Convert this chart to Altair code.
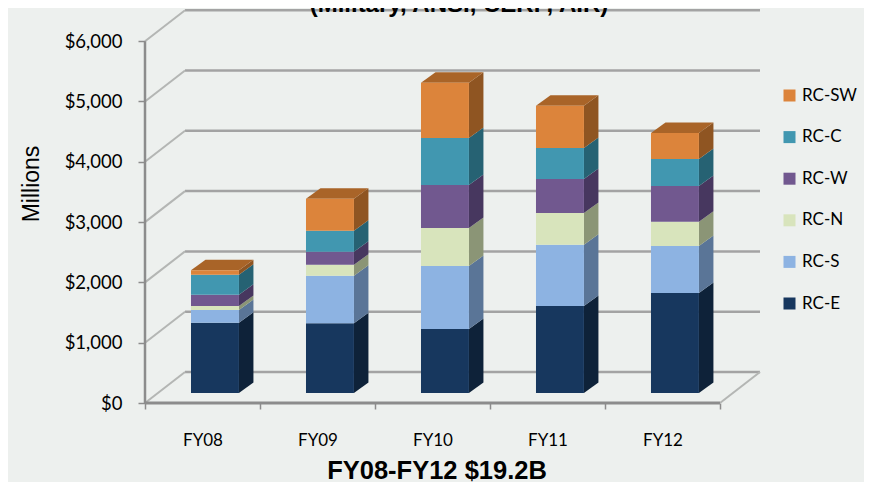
import altair as alt
import pandas as pd

YEARS = ["FY08", "FY09", "FY10", "FY11", "FY12"]
SERIES = ["RC-E", "RC-S", "RC-N", "RC-W", "RC-C", "RC-SW"]
RC_E = [1166, 1156, 1061, 1443, 1658]
RC_S = [210, 789, 1045, 1017, 779]
RC_N = [66, 182, 630, 526, 403]
RC_W = [187, 216, 713, 564, 592]
RC_C = [332, 348, 779, 514, 448]
RC_SW = [73, 531, 917, 701, 431]
VALUES = [RC_E, RC_S, RC_N, RC_W, RC_C, RC_SW]
FRONT = ["#17375e", "#8db3e2", "#d8e4bc", "#71588f", "#4197b0", "#dc843b"]
SIDE = ["#0e2239", "#5a7597", "#8b9576", "#47375f", "#266273", "#8f5522"]
TOP_FILL = "#a96428"
TICKS = [0, 1000, 2000, 3000, 4000, 5000, 6000]

# Pseudo-3D geometry in data units
BAR_START, BAR_END = 0.40, 0.817
BAR_LIFT = 166          # bars stand part-way into the floor
BAR_DX, BAR_DY = 0.126, 174
WALL_DX, WALL_DY = 0.348, 514
X_MAX = 5 + WALL_DX
Y_MAX = 6517

front_rows, side_rows, top_rows = [], [], []
for i, year in enumerate(YEARS):
    x0, x1 = i + BAR_START, i + BAR_END
    base = BAR_LIFT
    for s, name in enumerate(SERIES):
        top = base + VALUES[s][i]
        key = f"{year}-{name}"
        front_rows.append(dict(x=x0, x2=x1, y=base, y2=top, series=name))
        side_rows.append(dict(x=x1, y=base, y2=top, key=key, fill=SIDE[s]))
        side_rows.append(dict(x=x1 + BAR_DX, y=base + BAR_DY, y2=top + BAR_DY, key=key, fill=SIDE[s]))
        base = top
    top_rows += [
        dict(x=x0, y=base, y2=base, key=year),
        dict(x=x0 + BAR_DX, y=base, y2=base + BAR_DY, key=year),
        dict(x=x1, y=base, y2=base + BAR_DY, key=year),
        dict(x=x1 + BAR_DX, y=base + BAR_DY, y2=base + BAR_DY, key=year),
    ]

grid_rows = []
for t in TICKS:
    grid_rows += [dict(x=WALL_DX, y=t + WALL_DY, k=f"b{t}"), dict(x=X_MAX, y=t + WALL_DY, k=f"b{t}")]
diag_rows = []
for t in TICKS:
    diag_rows += [dict(x=0, y=t, k=f"d{t}"), dict(x=WALL_DX, y=t + WALL_DY, k=f"d{t}")]
diag_rows += [dict(x=5, y=0, k="r"), dict(x=X_MAX, y=WALL_DY, k="r")]
vert_rows = [dict(x=0, y=6000, k="v"), dict(x=0, y=0, k="v")]
floor_rows = [dict(x=0, y=0, k="f"), dict(x=5, y=0, k="f")]

XS = alt.Scale(domain=[0, X_MAX], nice=False, zero=False)
YS = alt.Scale(domain=[0, Y_MAX], nice=False, zero=False)
FONT = "Lato"
HEAD = "Liberation Sans"

X_AXIS = alt.Axis(
    values=[0, 1, 2, 3, 4, 5], grid=False, domain=False, tickColor="#8c8c8c", tickSize=6, tickWidth=1.5,
    labelExpr="datum.value < 5 ? ['FY08','FY09','FY10','FY11','FY12'][datum.value] : ''",
    labelOffset=57.5, labelAlign="center", labelFont=FONT, labelFontSize=17, labelColor="#000000",
    labelPadding=23, labelOverlap=False, labelFlush=False,
    title="FY08-FY12 $19.2B", titleFont=HEAD, titleFontSize=25.5, titleFontWeight="bold", titleColor="#000000",
    titleX=291.5, titleY=75, titleAnchor="middle", titleAlign="center", titleBaseline="alphabetic",
)
Y_AXIS = alt.Axis(
    values=TICKS, grid=False, domain=False, format="$,.0f", tickColor="#8c8c8c", tickSize=7, tickWidth=1.5,
    labelFont=FONT, labelFontSize=18.5, labelColor="#000000", labelPadding=16,
    title="Millions", titleFont=HEAD, titleFontSize=23, titleFontWeight="normal", titleColor="#000000",
    titleX=-107, titleY=173.5, titleAnchor="middle", titleBaseline="alphabetic",
)

def xy():
    return dict(
        x=alt.X("x:Q", scale=XS, axis=X_AXIS),
        y=alt.Y("y:Q", scale=YS, axis=Y_AXIS),
    )

grid = alt.Chart(pd.DataFrame(grid_rows)).mark_line(color="#a3a3a3", strokeWidth=2.5).encode(detail="k:N", **xy())
diag = alt.Chart(pd.DataFrame(diag_rows)).mark_line(color="#b4b6b4", strokeWidth=2).encode(detail="k:N", **xy())
vert = alt.Chart(pd.DataFrame(vert_rows)).mark_line(color="#8c8c8c", strokeWidth=2.5).encode(detail="k:N", **xy())
floor = alt.Chart(pd.DataFrame(floor_rows)).mark_line(color="#8c8c8c", strokeWidth=3).encode(detail="k:N", **xy())

side = alt.Chart(pd.DataFrame(side_rows)).mark_area(opacity=1).encode(
    y2="y2:Q", detail="key:N", color=alt.Color("fill:N", scale=None), **xy()
)
top = alt.Chart(pd.DataFrame(top_rows)).mark_area(color=TOP_FILL).encode(y2="y2:Q", detail="key:N", **xy())
front = alt.Chart(pd.DataFrame(front_rows)).mark_bar().encode(
    x2="x2:Q", y2="y2:Q",
    color=alt.Color(
        "series:N",
        scale=alt.Scale(domain=SERIES[::-1], range=FRONT[::-1]),
        legend=alt.Legend(
            title=None, orient="none", legendX=636, legendY=77, symbolType="square", symbolSize=144,
            symbolStrokeWidth=0, labelFont=FONT, labelFontSize=17, labelColor="#000000",
            rowPadding=23.6, labelOffset=4, symbolOpacity=1,
        ),
    ),
    **xy(),
)
heading = alt.Chart(pd.DataFrame({"t": ["(Military, ANSI, CERP, AIR)"]})).mark_text(
    font=HEAD, fontSize=24, fontWeight="bold", color="#000000", align="center", baseline="alphabetic"
).encode(text="t:N", x=alt.value(314), y=alt.value(2))

chart = (
    alt.layer(grid, diag, vert, floor, side, top, front, heading)
    .properties(
        width=615, height=393,
        padding={"left": 137, "top": 2, "right": 104, "bottom": 79},
        autosize=alt.AutoSizeParams(type="none"),
        background="#edf0ee",
    )
    .configure_view(stroke=None)
)
chart.save("out.html", embed_options={"renderer": "svg", "actions": False})
